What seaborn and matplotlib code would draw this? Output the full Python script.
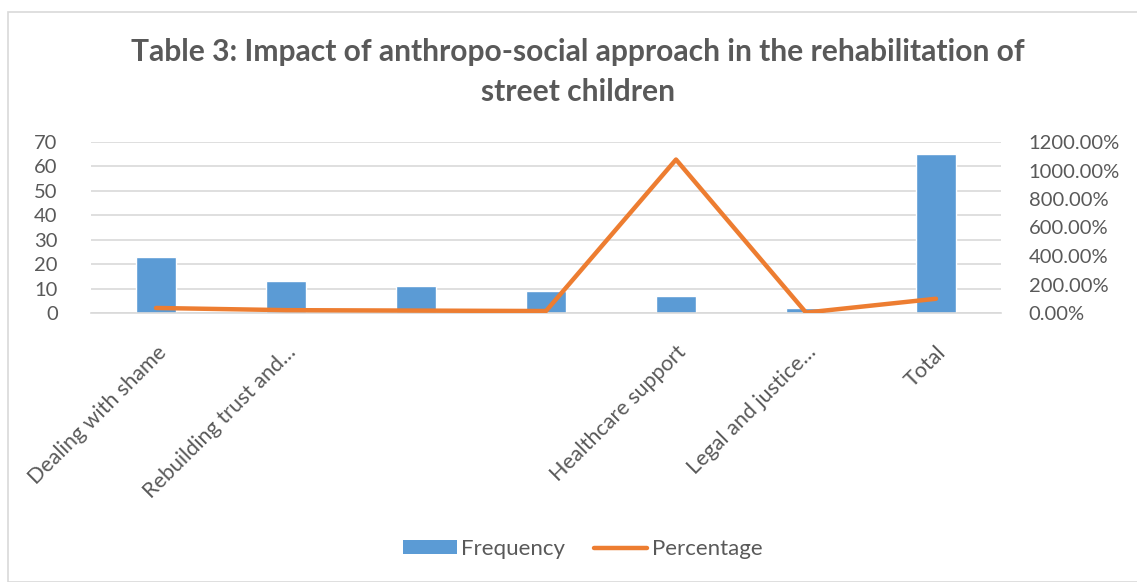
import matplotlib
matplotlib.use("Agg")
import matplotlib.pyplot as plt
import seaborn as sns
import pandas as pd
from matplotlib.ticker import FuncFormatter
from matplotlib.patches import Rectangle, Patch
from matplotlib.lines import Line2D

# ---- data ----
categories = ["Dealing with shame", "Rebuilding trust and\u2026", "", "",
              "Healthcare support", "Legal and justice\u2026", "Total"]
frequency = [23, 13, 11, 9, 7, 2, 65]
percentage = [0.3538, 0.2000, 0.1692, 0.1385, 10.7692, 0.0308, 1.0000]
freq_ticks = [0, 10, 20, 30, 40, 50, 60, 70]
pct_ticks = [0, 2, 4, 6, 8, 10, 12]
title = "Table 3: Impact of anthropo-social approach in the rehabilitation of\nstreet children"

sns.set_theme(style="white")
plt.rcParams['font.family'] = ['Lato', 'DejaVu Sans']

BLUE = "#5B9BD5"
ORANGE = "#ED7D31"
GRAY = "#595959"
GRID = "#D9D9D9"

W, H = 1137, 582
fig = plt.figure(figsize=(W / 100, H / 100), dpi=100)

# chart frame
fig.patches.append(Rectangle((8 / W, 0), 2, 1 - 12 / H, transform=fig.transFigure,
                             fill=False, edgecolor="#D9D9D9", linewidth=1.2))

left, right, top, bottom = 91, 1001, 142, 313
ax = fig.add_axes([left / W, 1 - bottom / H, (right - left) / W, (bottom - top) / H])

df = pd.DataFrame({"pos": list(range(len(categories))),
                   "Frequency": frequency, "Percentage": percentage})

sns.barplot(data=df, x="pos", y="Frequency", color=BLUE, width=0.31,
            saturation=1, ax=ax, zorder=2)
ax.set_ylim(0, 70)
ax.set_yticks(freq_ticks)
ax.set_xlim(-0.5, len(categories) - 0.5)
ax.grid(axis="y", color=GRID, linewidth=1.2, zorder=0)
ax.set_axisbelow(True)
for s in ax.spines.values():
    s.set_visible(False)
ax.spines["bottom"].set_visible(True)
ax.spines["bottom"].set_color(GRID)
ax.spines["bottom"].set_linewidth(1.2)
ax.set_xlabel("")
ax.set_ylabel("")
ax.set_xticks(range(len(categories)))
ax.set_xticklabels(categories, rotation=45, ha="right", va="top",
                   rotation_mode="anchor", fontsize=15.5, color=GRAY)
ax.tick_params(axis="x", length=0, pad=21)
ax.tick_params(axis="y", length=0, labelsize=14.5, labelcolor=GRAY, pad=24)

ax2 = ax.twinx()
sns.lineplot(data=df, x="pos", y="Percentage", color=ORANGE, linewidth=3.2,
             ax=ax2, zorder=3)
ax2.set_ylim(0, 12)
ax2.set_yticks(pct_ticks)
ax2.yaxis.set_major_formatter(FuncFormatter(lambda v, p: f"{v * 100:.2f}%"))
ax2.tick_params(axis="y", length=0, labelsize=14.5, labelcolor=GRAY, pad=20)
ax2.set_ylabel("")
ax2.set_xlabel("")
for s in ax2.spines.values():
    s.set_visible(False)
ax2.grid(False)

fig.text(578 / W, 1 - 72 / H, title, ha="center", va="center", fontsize=21.6,
         fontweight="bold", color=GRAY, linespacing=1.55)

handles = [Patch(facecolor=BLUE, edgecolor="none"),
           Line2D([0], [0], color=ORANGE, linewidth=3.2)]
fig.legend(handles, ["Frequency", "Percentage"], loc="center",
           bbox_to_anchor=(583 / W, 1 - 549 / H), ncol=2, frameon=False,
           fontsize=16, labelcolor=GRAY, handlelength=2.4, handleheight=0.6,
           handletextpad=0.2, columnspacing=1.3)

fig.savefig("out.png", dpi=100)
